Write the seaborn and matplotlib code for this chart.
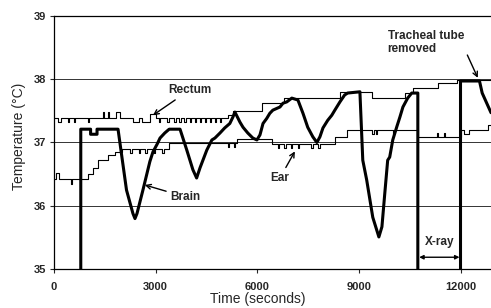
import matplotlib.pyplot as plt
import seaborn as sns

# Brain temperature (thick line) before and after the X-ray gap
brain_t = [790, 790, 1080, 1080, 1270, 1270, 1890, 2140, 2330, 2390, 2450, 2625,
           2830, 2920, 3050, 3130, 3270, 3400, 3720, 3920, 4100, 4210, 4310, 4510,
           4660, 4750, 4900, 5040, 5190, 5280, 5340, 5490, 5580, 5720, 5870, 5990,
           6080, 6170, 6280, 6370, 6460, 6670, 6760, 6870, 7020, 7200, 7350, 7490,
           7640, 7760, 7850, 7940, 8080, 8200, 8290, 8440, 8580, 8670, 9030, 9115,
           9230, 9410, 9590, 9680, 9765, 9850, 9910, 10000, 10120, 10210, 10300,
           10440, 10560, 10740, 10740]
brain_T = [35.0, 37.21, 37.21, 37.13, 37.13, 37.21, 37.21, 36.25, 35.88, 35.8, 35.88, 36.25,
           36.7, 36.85, 36.98, 37.07, 37.15, 37.21, 37.21, 36.88, 36.57, 36.44, 36.6, 36.88,
           37.04, 37.07, 37.15, 37.23, 37.3, 37.4, 37.48, 37.32, 37.24, 37.15, 37.07, 37.04,
           37.12, 37.3, 37.38, 37.46, 37.51, 37.56, 37.62, 37.64, 37.7, 37.67, 37.46, 37.24,
           37.09, 37.0, 37.09, 37.23, 37.35, 37.43, 37.51, 37.64, 37.75, 37.78, 37.8, 36.72,
           36.41, 35.82, 35.51, 35.67, 36.2, 36.72, 36.77, 37.04, 37.25, 37.4, 37.56,
           37.7, 37.78, 37.78, 35.0]
brain2_t = [12000, 12000, 12560, 12640, 12900]
brain2_T = [35.0, 37.97, 37.97, 37.78, 37.47]

# Rectum (thin line, step changes)
rectum_t = [0, 120, 200, 400, 430, 600, 630, 1000, 1030, 1450, 1480, 1600, 1630, 1820,
            1950, 2330, 2500, 2600, 2830, 3000,
            3100, 3140, 3350, 3390, 3550, 3590, 3700, 3740, 3850, 3890, 4000, 4040,
            4150, 4190, 4300, 4340, 4450, 4490, 4600, 4640, 4750, 4790, 4900, 4940,
            5130, 5280, 6150, 6800, 8440, 9380, 10350, 10600, 11330, 11900, 12900]
rectum_T = [37.38, 37.32, 37.38, 37.33, 37.38, 37.33, 37.38, 37.33, 37.38, 37.48, 37.38, 37.48,
            37.38, 37.48, 37.38, 37.32, 37.38, 37.32, 37.45, 37.38,
            37.32, 37.38, 37.32, 37.38, 37.32, 37.38, 37.32, 37.38, 37.32, 37.38, 37.32, 37.38,
            37.32, 37.38, 37.32, 37.38, 37.32, 37.38, 37.32, 37.38, 37.32, 37.38, 37.32, 37.38,
            37.43, 37.5, 37.62, 37.7, 37.8, 37.7, 37.78, 37.86, 37.94, 37.98, 37.98]

# Ear (thin line, step changes)
ear_t = [0, 60, 150, 500, 540, 1000, 1150, 1300, 1600, 1800, 2000, 2250, 2290, 2500,
         2540, 2700, 2740, 2950, 2990, 3200, 3240, 3400, 5130, 5170, 5300, 5340, 5400,
         6430, 6600, 6640, 6800, 6840, 7000, 7040, 7200, 7240, 7600, 7640, 7800, 7840,
         8290, 8640, 9400, 9440, 9500, 9540, 10000, 10040, 10740, 11300, 11340, 11500,
         11540, 12000, 12100, 12250, 12800, 12900]
ear_T = [36.42, 36.52, 36.42, 36.35, 36.42, 36.5, 36.6, 36.72, 36.8, 36.85, 36.9, 36.84, 36.9, 36.84,
         36.9, 36.84, 36.9, 36.84, 36.9, 36.84, 36.9, 36.99, 36.93, 36.99, 36.93, 36.99, 37.06,
         36.98, 36.92, 36.98, 36.92, 36.98, 36.92, 36.98, 36.92, 36.98, 36.92, 36.98, 36.92, 36.98,
         37.08, 37.2, 37.14, 37.2, 37.14, 37.2, 37.14, 37.2, 37.09, 37.15, 37.09, 37.15,
         37.09, 37.2, 37.13, 37.2, 37.28, 37.28]

x_ticks = [0, 3000, 6000, 9000, 12000]
y_ticks = [35, 36, 37, 38, 39]

sns.set_style('ticks')
plt.rcParams['font.family'] = ['Liberation Sans', 'DejaVu Sans']

fig = plt.figure(figsize=(4.91, 3.08), dpi=100)
ax = fig.add_axes([0.110, 0.1257, 0.890, 0.8233])
ax.set_axisbelow(True)

sns.lineplot(x=brain_t, y=brain_T, sort=False, estimator=None, color='black', lw=2.2, ax=ax)
sns.lineplot(x=brain2_t, y=brain2_T, sort=False, estimator=None, color='black', lw=2.2, ax=ax)
sns.lineplot(x=rectum_t, y=rectum_T, sort=False, estimator=None, color='black', lw=0.8,
             drawstyle='steps-post', ax=ax)
sns.lineplot(x=ear_t, y=ear_T, sort=False, estimator=None, color='black', lw=0.8,
             drawstyle='steps-post', ax=ax)

ax.set_xlim(0, 12900)
ax.set_ylim(35, 39)
ax.set_xticks(x_ticks)
ax.set_yticks(y_ticks)
ax.yaxis.grid(True, color='#333333', lw=0.7)
ax.tick_params(direction='out', length=3, width=0.8, labelsize=8, pad=3)
for lab in ax.get_xticklabels() + ax.get_yticklabels():
    lab.set_fontweight('bold')
ax.tick_params(axis='x', pad=6)

for side in ['left', 'bottom', 'top']:
    ax.spines[side].set_color('black')
    ax.spines[side].set_linewidth(0.9)
ax.spines['right'].set_visible(False)

ax.set_xlabel('Time (seconds)', fontsize=10)
ax.set_ylabel('Temperature (°C)', fontsize=10)
ax.xaxis.set_label_coords(0.467, -0.09)
ax.yaxis.set_label_coords(-0.064, 0.526)

arrow = dict(arrowstyle='->', color='black', lw=1, shrinkA=1, shrinkB=0)
ax.annotate('Rectum', xy=(2920, 37.43), xytext=(4010, 37.83), fontsize=8.5,
            fontweight='bold', ha='center', va='center', arrowprops=arrow)
ax.annotate('Brain', xy=(2680, 36.33), xytext=(3890, 36.14), fontsize=8.5,
            fontweight='bold', ha='center', va='center', arrowprops=arrow)
ax.annotate('Ear', xy=(7110, 36.86), xytext=(6670, 36.44), fontsize=8.5,
            fontweight='bold', ha='center', va='center', arrowprops=arrow)
ax.annotate('Tracheal tube\nremoved', xy=(12510, 38.02), xytext=(9850, 38.58), fontsize=8.5,
            fontweight='bold', ha='left', va='center', linespacing=1.05,
            arrowprops=dict(arrowstyle='->', color='black', lw=1, shrinkA=0, shrinkB=0,
                            relpos=(0.93, 0.75)))
ax.text(11390, 35.43, 'X-ray', fontsize=8.5, fontweight='bold', ha='center', va='center')
ax.annotate('', xy=(10780, 35.19), xytext=(11970, 35.19),
            arrowprops=dict(arrowstyle='<|-|>', color='black', lw=1, mutation_scale=6,
                            shrinkA=0, shrinkB=0))

fig.savefig('out.png', dpi=100)
